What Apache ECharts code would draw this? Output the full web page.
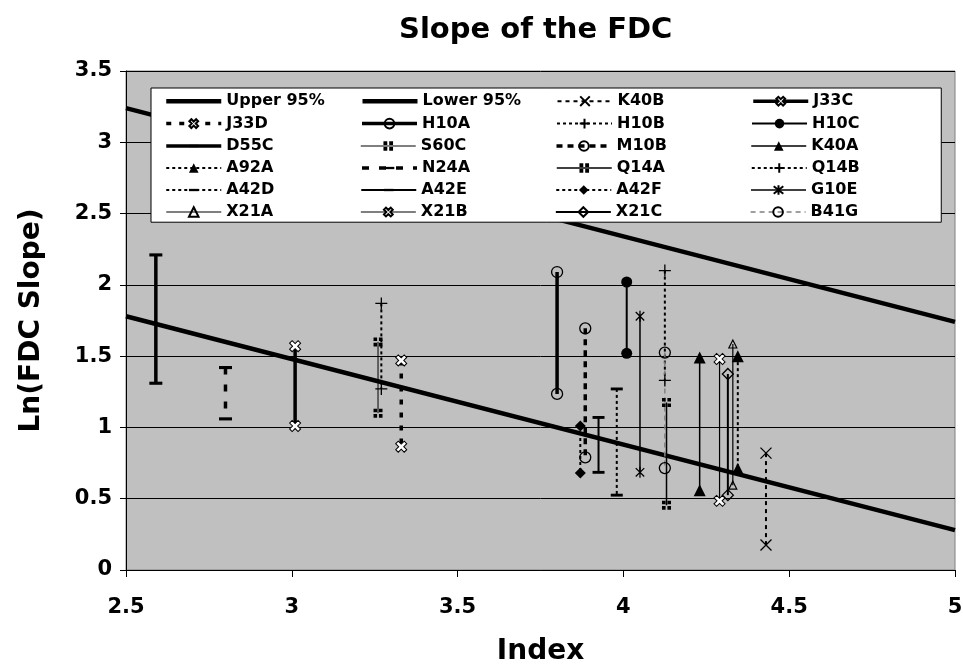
<!DOCTYPE html>
<html>
<head>
<meta charset="utf-8">
<script src="https://cdn.jsdelivr.net/npm/echarts@6/dist/echarts.min.js"></script>
<style>
  html, body { margin: 0; padding: 0; background: #fff; }
  #chart { width: 963px; height: 664px; }
</style>
</head>
<body>
<div id="chart"></div>
<script>
// confidence band lines (x at both ends of the axis)
const bandX = [2.5, 5];
const upper95 = [3.24, 1.74];
const lower95 = [1.78, 0.28];

// one vertical segment per gauge: index value, top and bottom ln(slope)
const gauges = ['K40B', 'J33C', 'J33D', 'H10A', 'H10B', 'H10C', 'D55C', 'S60C', 'M10B', 'K40A',
  'A92A', 'N24A', 'Q14A', 'Q14B', 'A42D', 'A42E', 'A42F', 'G10E', 'X21A', 'X21B', 'X21C', 'B41G'];
const gaugeIndex = [4.43, 3.01, 3.33, 3.80, 3.27, 4.01, 2.59, 3.26, 3.885, 4.23,
  4.345, 2.80, 4.13, 4.125, 3.98, 3.925, 3.87, 4.05, 4.33, 4.29, 4.315, 4.125];
const gaugeTop = [0.82, 1.57, 1.47, 2.09, 1.87, 2.02, 2.21, 1.60, 1.695, 1.49,
  1.50, 1.42, 1.175, 2.10, 1.27, 1.07, 1.01, 1.78, 1.585, 1.48, 1.375, 1.525];
const gaugeBottom = [0.175, 1.01, 0.865, 1.235, 1.27, 1.52, 1.31, 1.10, 0.79, 0.56,
  0.71, 1.06, 0.455, 1.33, 0.525, 0.685, 0.68, 0.685, 0.595, 0.485, 0.525, 0.715];

const FONT = 'DejaVu Sans';
const CLEAR = 'rgba(0,0,0,0)';

// marker shapes (the bare moves keep the dash's box square for the legend icon)
const X = 'path://M0,0L10,10M10,0L0,10';
const PLUS = 'path://M5,0L5,10M0,5L10,5';
const STAR = 'path://M0,0L10,10M10,0L0,10M5,-1.5L5,11.5';
const GRIDSQ = 'path://M0,0h4v4h-4zM6,0h4v4h-4zM0,6h4v4h-4zM6,6h4v4h-4z';
const WHITEX = 'path://M3.5,0h3v3.5h3.5v3h-3.5v3.5h-3v-3.5h-3.5v-3h3.5z';
const DASH = 'path://M0,-3.8M10,6.2M0,0h10v2.4h-10z';

// per-gauge look: [width, dash, symbol, size, fill, rotate, stroke, colour]
const looks = {
  K40B: [2, [4, 4], X, 11, '#000', 0, 1.3],
  J33C: [3.5, 'solid', WHITEX, 12, '#fff', 45, 1],
  J33D: [3.5, [5, 8], WHITEX, 12, '#fff', 45, 1],
  H10A: [3.5, 'solid', 'circle', 11, CLEAR, 0, 1.3],
  H10B: [2, [3, 3], PLUS, 12, '#000', 0, 1.3],
  H10C: [2, 'solid', 'circle', 11, '#000', 0, 0],
  D55C: [3.5, 'solid', DASH, 13, '#000', 0, 0],
  S60C: [1, 'solid', GRIDSQ, 9, '#000', 0, 0],
  M10B: [3.5, [6, 5], 'circle', 11, CLEAR, 0, 1.3],
  K40A: [1.5, 'solid', 'triangle', 12, '#000', 0, 0],
  A92A: [2, [3, 3], 'triangle', 12, '#000', 0, 0],
  N24A: [3.5, [7, 10], DASH, 13, '#000', 0, 0],
  Q14A: [1.5, 'solid', GRIDSQ, 9, '#000', 0, 0],
  Q14B: [2, [3, 3], PLUS, 12, '#000', 0, 1.3],
  A42D: [2, [3, 3], DASH, 12, '#000', 0, 0],
  A42E: [2, 'solid', DASH, 12, '#000', 0, 0],
  A42F: [2, [3, 3], 'diamond', 11, '#000', 0, 0],
  G10E: [1.5, 'solid', STAR, 11, '#000', 0, 1.3],
  X21A: [1.2, 'solid', 'triangle', 8, CLEAR, 0, 1.2],
  X21B: [1.2, 'solid', WHITEX, 12, '#fff', 45, 1],
  X21C: [2, 'solid', 'diamond', 11, CLEAR, 0, 1.3],
  B41G: [1.5, [5, 4], 'circle', 11, CLEAR, 0, 1.3, '#808080']
};

// band lines: clear item colour so their legend icon is a bare line
const series = [
  { name: 'Upper 95%', type: 'line', symbol: 'none', data: bandX.map((x, i) => [x, upper95[i]]),
    lineStyle: { color: '#000', width: 4.5 }, itemStyle: { color: CLEAR, borderWidth: 0 } },
  { name: 'Lower 95%', type: 'line', symbol: 'none', data: bandX.map((x, i) => [x, lower95[i]]),
    lineStyle: { color: '#000', width: 4.5 }, itemStyle: { color: CLEAR, borderWidth: 0 } }
];

gauges.forEach((g, i) => {
  const [w, dash, sym, size, fill, rot, bw, col] = looks[g];
  series.push({
    name: g,
    type: 'line',
    data: [[gaugeIndex[i], gaugeTop[i]], [gaugeIndex[i], gaugeBottom[i]]],
    symbol: sym,
    symbolSize: size,
    symbolRotate: rot,
    symbolKeepAspect: true,
    showSymbol: true,
    lineStyle: { color: col || '#000', width: w, type: dash },
    itemStyle: { color: fill, borderColor: '#000', borderWidth: bw }
  });
});

const chart = echarts.init(document.getElementById('chart'));
chart.setOption({
  animation: false,
  backgroundColor: '#fff',
  title: {
    text: 'Slope of the FDC',
    left: 394, top: 11,
    textStyle: { fontFamily: FONT, fontWeight: 'bold', fontSize: 29, color: '#000' }
  },
  legend: {
    data: ['Upper 95%', 'Lower 95%'].concat(gauges),
    left: 151, top: 88, width: 780,
    padding: [5, 0, 2, 13],
    itemWidth: 55, itemHeight: 12, itemGap: 6,
    backgroundColor: '#fff', borderColor: '#000', borderWidth: 1,
    selectedMode: false,
    lineStyle: { width: 'inherit' },
    textStyle: { fontFamily: FONT, fontWeight: 'bold', fontSize: 16, color: '#000', width: 128, lineHeight: 16 }
  },
  grid: {
    left: 126, right: 8, top: 71, bottom: 94,
    outerBoundsMode: 'none',
    show: true, backgroundColor: '#c0c0c0', borderColor: '#808080', borderWidth: 1
  },
  xAxis: {
    type: 'value', min: 2.5, max: 5, interval: 0.5,
    name: 'Index', nameLocation: 'middle', nameGap: 68,
    nameTextStyle: { fontFamily: FONT, fontWeight: 'bold', fontSize: 28, color: '#000' },
    axisLine: { lineStyle: { color: '#000', width: 1 } },
    axisTick: { show: true, length: 7, lineStyle: { color: '#000' } },
    axisLabel: { fontFamily: FONT, fontWeight: 'bold', fontSize: 21, color: '#000', margin: 27 },
    splitLine: { show: false }
  },
  yAxis: {
    type: 'value', min: 0, max: 3.5, interval: 0.5,
    name: 'Ln(FDC Slope)', nameLocation: 'middle', nameGap: 80, nameRotate: 90,
    nameTextStyle: { fontFamily: FONT, fontWeight: 'bold', fontSize: 28, color: '#000' },
    axisLine: { show: true, lineStyle: { color: '#000', width: 1 } },
    axisTick: { show: true, length: 6, lineStyle: { color: '#000' } },
    axisLabel: { fontFamily: FONT, fontWeight: 'bold', fontSize: 21, color: '#000', margin: 14 },
    splitLine: { show: true, lineStyle: { color: '#000', width: 1 } }
  },
  series: series
});
</script>
</body>
</html>
